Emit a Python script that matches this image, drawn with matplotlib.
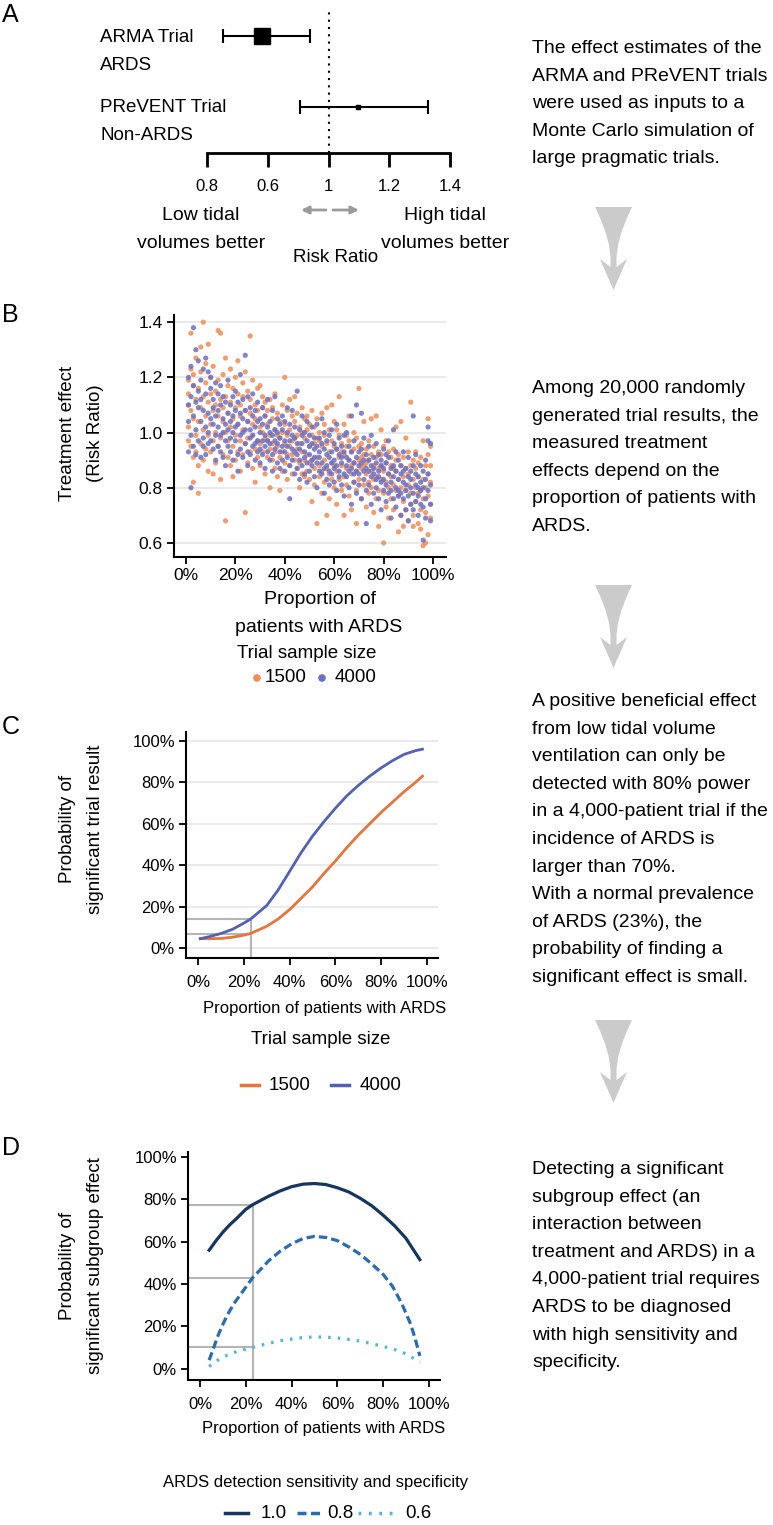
"""Four-panel flow figure: trial estimates, simulated effects, power curves, subgroup power."""

import matplotlib.pyplot as plt
from matplotlib.patches import Polygon

plt.rcParams["font.family"] = ["Liberation Sans", "DejaVu Sans"]

W, H = 773, 1525

# ---- panel A: trial estimates (risk ratio, 95% CI)
trial_names = ["ARMA Trial", "PReVENT Trial"]
trial_groups = ["ARDS", "Non-ARDS"]
trial_rr = [0.781, 1.097]
trial_lo = [0.653, 0.906]
trial_hi = [0.939, 1.328]
rr_ticks = [0.6, 0.8, 1.0, 1.2, 1.4]
rr_ticklabels = ["0.8", "0.6", "1", "1.2", "1.4"]

# ---- panel B: simulated trial results, RR by % ARDS (one row of y values per x)
sim_prop = list(range(1, 100))
sim_rr_1500 = [
    [1.19, 1.02, 1.10, 0.97, 1.14], [1.36, 1.23, 0.95, 1.08], [1.17, 0.91, 1.05, 1.21, 0.82],
    [1.12, 0.99, 1.27, 0.93], [1.04, 1.16, 0.88, 0.78], [1.22, 1.09, 0.96, 1.31],
    [1.40, 1.01, 1.13, 0.90], [1.06, 1.18, 0.94, 1.25], [1.32, 0.99, 1.11, 0.86],
    [1.03, 1.20, 0.93, 1.14], [1.08, 0.97, 1.24, 0.85], [1.15, 1.00, 0.89, 1.10],
    [1.37, 1.06, 0.95, 1.19], [1.36, 0.98, 1.12, 0.83], [1.04, 1.21, 0.92, 1.09],
    [0.68, 1.13, 1.00, 1.27], [1.07, 0.91, 1.17, 0.97], [1.02, 1.23, 0.88, 1.11],
    [1.16, 0.95, 1.05, 0.84], [1.09, 0.99, 1.20, 0.90], [1.03, 1.14, 0.93, 1.26],
    [0.97, 1.10, 0.86, 1.06], [1.18, 1.01, 0.92, 1.13], [0.71, 1.08, 0.96, 1.22],
    [1.04, 0.89, 1.15, 0.98], [1.35, 1.07, 0.93, 1.12], [0.99, 1.19, 0.87, 1.03],
    [1.10, 0.94, 1.05, 0.82], [1.16, 0.97, 1.08, 0.91], [1.02, 1.17, 0.88, 0.96],
    [1.09, 0.93, 1.13, 1.00], [0.98, 1.06, 0.85, 1.11], [1.03, 0.91, 0.97, 1.08],
    [0.94, 1.12, 0.99, 0.80], [1.05, 0.90, 0.96, 1.09], [0.93, 1.01, 0.87, 1.14],
    [1.07, 0.95, 0.99, 0.84], [0.91, 1.04, 0.98, 0.79], [1.10, 0.93, 1.00, 0.86],
    [1.20, 0.96, 0.89, 1.03], [0.92, 1.08, 0.99, 0.83], [1.01, 0.88, 0.95, 1.12],
    [0.97, 1.06, 0.85, 0.92], [1.04, 0.90, 0.98, 1.13], [0.94, 1.07, 0.87, 0.99],
    [1.02, 0.89, 0.96, 0.80], [0.93, 1.09, 0.85, 1.00], [0.98, 0.90, 1.05, 0.84],
    [1.01, 0.92, 0.86, 1.06], [0.95, 0.83, 1.03, 0.89], [0.75, 0.99, 0.90, 1.08],
    [0.96, 0.87, 1.02, 0.81], [0.91, 0.67, 0.98, 1.05], [0.88, 0.97, 0.84, 1.00],
    [0.95, 0.86, 1.07, 0.78], [0.90, 0.99, 0.82, 1.03], [0.87, 0.96, 0.70, 1.09],
    [0.93, 0.85, 1.01, 0.76], [0.89, 1.10, 0.83, 0.97], [0.95, 0.80, 0.88, 1.04],
    [0.86, 0.94, 0.74, 1.01], [0.91, 0.83, 0.99, 1.13], [0.88, 0.96, 0.79, 0.93],
    [0.92, 0.84, 1.03, 0.70], [0.87, 0.95, 0.81, 0.99], [0.90, 0.77, 0.97, 1.06],
    [0.85, 0.93, 0.88, 0.72], [0.94, 0.82, 1.00, 0.89], [0.86, 0.98, 0.79, 0.67],
    [1.16, 0.90, 0.83, 0.95], [0.87, 0.76, 0.96, 0.91], [0.92, 0.81, 0.88, 1.04],
    [0.85, 0.94, 0.73, 0.89], [0.90, 0.82, 0.97, 0.78], [0.86, 1.05, 0.80, 0.92],
    [0.88, 0.71, 0.95, 0.83], [0.91, 0.84, 1.06, 0.76], [0.87, 0.79, 0.93, 0.66],
    [0.83, 0.92, 0.88, 1.01], [0.60, 0.86, 0.78, 0.95], [0.89, 0.82, 0.73, 0.97],
    [0.85, 0.93, 0.80, 0.69], [0.88, 0.76, 0.91, 0.84], [0.81, 0.94, 0.72, 0.87],
    [0.86, 0.79, 1.02, 0.90], [0.83, 0.64, 0.92, 0.77], [0.88, 0.80, 1.04, 0.70],
    [0.84, 0.75, 0.91, 0.66], [0.79, 0.87, 0.98, 0.72], [0.85, 0.68, 0.81, 0.93],
    [1.11, 0.78, 0.88, 0.74], [0.83, 0.70, 0.90, 0.66], [0.80, 0.87, 0.75, 0.93],
    [0.84, 0.67, 0.78, 0.89], [0.79, 0.91, 0.72, 0.65], [0.83, 0.59, 0.76, 0.97],
    [0.60, 0.88, 0.71, 0.80], [0.85, 0.63, 1.05, 0.77, 0.92], [0.82, 0.69, 0.88, 0.74, 0.95],
]
sim_rr_4000 = [
    [1.10, 0.93, 1.20, 1.04], [1.13, 0.99, 1.24, 0.80], [1.38, 1.06, 0.95, 1.17],
    [1.30, 1.01, 1.11, 0.92], [1.09, 1.26, 0.97, 1.15], [1.04, 1.19, 0.91, 1.12],
    [1.23, 0.98, 1.08, 0.95], [1.14, 1.02, 1.27, 0.92], [1.00, 1.22, 1.07, 0.96],
    [1.16, 0.97, 1.05, 1.20], [1.03, 1.12, 0.94, 1.09], [1.18, 0.99, 1.06, 0.90],
    [1.08, 0.95, 1.14, 1.02], [0.99, 1.10, 0.93, 1.17], [1.05, 0.91, 1.13, 1.00],
    [1.11, 0.97, 1.03, 0.88], [0.95, 1.07, 1.19, 1.01], [1.04, 0.93, 1.10, 0.98],
    [1.13, 1.00, 0.90, 1.06], [0.97, 1.08, 1.15, 1.02], [1.03, 0.92, 1.11, 0.86],
    [1.07, 0.99, 1.21, 0.94], [1.00, 1.12, 0.91, 1.05], [1.28, 0.96, 1.08, 1.01],
    [1.04, 0.93, 1.13, 0.88], [0.98, 1.09, 1.01, 0.92], [1.06, 0.95, 1.14, 0.99],
    [1.02, 0.90, 1.08, 0.96], [0.97, 1.11, 0.93, 1.04], [1.05, 0.94, 1.00, 0.89],
    [1.09, 0.97, 0.92, 1.03], [0.99, 1.06, 0.87, 0.95], [1.02, 0.93, 1.12, 0.97],
    [0.96, 1.04, 0.90, 1.00], [1.08, 0.92, 0.99, 0.86], [0.94, 1.01, 1.13, 0.97],
    [1.00, 0.89, 0.96, 1.05], [0.93, 1.03, 0.98, 0.87], [1.06, 0.95, 0.90, 1.01],
    [0.97, 0.86, 1.04, 0.93], [0.91, 1.00, 0.95, 1.09], [1.03, 0.88, 0.97, 0.76],
    [0.94, 1.08, 0.90, 0.99], [0.98, 0.85, 1.02, 0.93], [1.15, 0.92, 0.96, 0.87],
    [0.90, 1.01, 0.94, 0.83], [0.96, 1.06, 0.88, 0.99], [0.93, 0.85, 1.00, 0.91],
    [0.97, 0.89, 1.04, 0.82], [0.92, 0.99, 0.86, 0.95], [0.88, 0.96, 1.02, 0.90],
    [0.94, 0.84, 0.98, 0.91], [1.03, 0.89, 0.95, 0.80], [0.91, 0.98, 0.86, 0.93],
    [0.96, 0.85, 1.05, 0.89], [0.87, 0.94, 0.78, 1.00], [0.92, 0.83, 0.97, 0.88],
    [0.99, 0.86, 0.91, 0.81], [0.85, 0.93, 1.01, 0.89], [0.90, 0.82, 0.96, 0.87],
    [0.94, 0.88, 0.79, 1.03], [0.86, 0.92, 0.98, 0.84], [0.89, 0.81, 0.95, 0.91],
    [0.93, 0.85, 0.77, 0.99], [0.84, 0.91, 0.88, 1.00], [0.90, 0.80, 0.95, 0.86],
    [0.87, 0.93, 0.74, 1.06], [0.82, 0.89, 0.97, 0.85], [0.91, 0.78, 0.86, 1.10],
    [0.85, 0.93, 0.81, 0.88], [0.89, 0.76, 0.94, 1.07], [0.83, 0.90, 0.86, 0.98],
    [0.87, 0.79, 0.92, 0.67], [0.81, 0.95, 0.86, 0.90], [0.88, 0.74, 0.84, 0.99],
    [0.85, 0.91, 0.78, 0.87], [0.80, 0.89, 0.96, 0.83], [0.86, 0.76, 0.92, 0.84],
    [0.82, 0.90, 0.72, 0.88], [0.87, 0.79, 0.94, 0.83], [0.81, 0.89, 0.75, 0.92],
    [0.85, 0.78, 0.91, 0.97], [0.79, 0.87, 0.82, 0.69], [0.84, 0.76, 1.01, 0.88],
    [0.80, 0.86, 0.73, 0.93], [0.83, 0.77, 0.90, 0.79], [0.78, 0.85, 0.70, 0.88],
    [0.82, 0.93, 0.76, 0.86], [0.79, 0.72, 0.87, 0.81], [0.84, 0.77, 0.91, 0.68],
    [0.80, 0.86, 0.74, 0.83], [1.06, 0.78, 0.88, 0.72], [0.81, 0.75, 0.85, 0.92],
    [0.77, 0.84, 0.70, 0.80], [0.82, 0.74, 0.88, 0.79], [0.61, 0.80, 0.86, 0.73],
    [0.83, 0.76, 0.90, 0.69], [1.02, 0.79, 0.85, 0.97], [0.81, 0.74, 0.96, 0.68],
]

# ---- panel C: probability of a significant trial result (%)
power_prop = [1, 5, 10, 15, 20, 23, 30, 35, 40, 45, 50, 55, 60, 65, 70, 75, 80, 85, 90, 95, 98]
power_1500 = [4.5, 4.5, 4.6, 5.2, 6.2, 7, 10.5, 14, 18.5, 24, 29.5, 36, 42, 48.5, 54.5, 60, 65.5, 70.5, 75.5, 80, 83]
power_4000 = [4.5, 5.5, 7, 9, 12, 14, 20.5, 28, 37, 46, 54, 61, 67.5, 73.5, 78.5, 83, 87, 90.5, 93.5, 95.3, 96]
ards_prevalence = 23

# ---- panel D: probability of a significant subgroup effect (%)
sub_prop_10 = [4, 7, 10, 13, 16, 20, 23, 27, 30, 35, 40, 45, 50, 55, 60, 65, 70, 75, 80, 85, 90, 93, 96]
sub_10 = [56, 60.5, 64.5, 68, 71, 75.3, 77.5, 79.8, 81.5, 84, 86, 87.2, 87.5, 87, 85.5,
          83.5, 80.5, 77, 72.5, 67.5, 61.5, 56.5, 51.5]
sub_prop_08 = [4, 6, 8, 10, 12, 15, 20, 23, 27, 30, 35, 40, 45, 50, 55, 60, 65, 70, 75, 80,
               84, 88, 92, 94, 96]
sub_08 = [4, 10, 16, 21, 25.5, 31, 38.5, 43, 47.5, 51, 55.5, 59, 61.5, 62.5, 62, 60.5, 57.5,
          54, 49.5, 44.5, 39, 31, 21, 14, 6]
sub_prop_06 = [4, 7, 10, 15, 20, 23, 30, 35, 40, 45, 50, 55, 60, 65, 70, 75, 80, 85, 90, 93, 96]
sub_06 = [1, 3.5, 5.5, 7.7, 9.2, 10, 12, 13.2, 14, 14.7, 15, 14.9, 14.5, 13.8, 13, 11.8,
          10.5, 9, 7, 5, 3]

side_text_a = ["The effect estimates of the", "ARMA and PReVENT trials",
               "were used as inputs to a", "Monte Carlo simulation of",
               "large pragmatic trials."]
side_text_b = ["Among 20,000 randomly", "generated trial results, the",
               "measured treatment", "effects depend on the",
               "proportion of patients with", "ARDS."]
side_text_c = ["A positive beneficial effect", "from low tidal volume",
               "ventilation can only be", "detected with 80% power",
               "in a 4,000-patient trial if the", "incidence of ARDS is",
               "larger than 70%.", "With a normal prevalence",
               "of ARDS (23%), the", "probability of finding a",
               "significant effect is small."]
side_text_d = ["Detecting a significant", "subgroup effect (an",
               "interaction between", "treatment and ARDS) in a",
               "4,000-patient trial requires", "ARDS to be diagnosed",
               "with high sensitivity and", "specificity."]

ORANGE_PT, BLUE_PT = "#f28b55", "#6a70c4"
ORANGE, BLUE = "#e8743b", "#5361b3"
NAVY, MID, LIGHT = "#14365f", "#2a6cb0", "#4fb5da"
REF = "#b5b5b5"
GRID = "#e6e6e6"


def rect(l, t, r, b):
    return [l / W, 1 - b / H, (r - l) / W, (b - t) / H]


def style_axes(ax, grid=True):
    for s in ("top", "right"):
        ax.spines[s].set_visible(False)
    for s in ("left", "bottom"):
        ax.spines[s].set_linewidth(1.5)
    ax.tick_params(direction="out", length=5, width=1.3, labelsize=12, pad=3)
    if grid:
        ax.yaxis.grid(True, color=GRID, linewidth=1.2)
        ax.set_axisbelow(True)


fig = plt.figure(figsize=(W / 100, H / 100), dpi=100)

# overlay in pixel coordinates for free text, arrows and legends
ov = fig.add_axes([0, 0, 1, 1])
ov.set_xlim(0, W)
ov.set_ylim(H, 0)
ov.axis("off")

for letter, y in zip("ABCD", [15, 315, 727, 1148]):
    ov.text(2, y, letter, fontsize=18, ha="left", va="center")

for lines, y0 in zip([side_text_a, side_text_b, side_text_c, side_text_d], [53, 393, 706, 1174]):
    for i, line in enumerate(lines):
        ov.text(532, y0 + i * 27.6, line, fontsize=14, ha="left", va="baseline")

# big grey flow arrows
shape = [(-18.5, 0), (18.5, 0), (13, 12), (8, 25), (4.5, 38), (3, 50), (3, 60), (13.5, 52),
         (0, 83), (-13.5, 52), (-3, 60), (-3, 50), (-4.5, 38), (-8, 25), (-13, 12)]
for top in [207, 585, 1020]:
    ov.add_patch(Polygon([(613.5 + dx, top + dy) for dx, dy in shape],
                         closed=True, facecolor="#cbcbcb", edgecolor="none"))

# ---------------- panel A
axA = fig.add_axes(rect(207, 8, 450, 153))
axA.set_xlim(0.6, 1.4)
axA.set_ylim(153, 8)
row_y = [36, 107]
ms = [11, 3.5]
for i in range(2):
    axA.errorbar(trial_rr[i], row_y[i],
                 xerr=[[trial_rr[i] - trial_lo[i]], [trial_hi[i] - trial_rr[i]]],
                 fmt="s", color="black", ms=ms[i], elinewidth=1.5, capsize=5, capthick=1.5)
axA.axvline(1.0, color="black", linestyle=(0, (1, 2.5)), linewidth=1.5)
for s in ("top", "right", "left"):
    axA.spines[s].set_visible(False)
axA.spines["bottom"].set_linewidth(2)
axA.set_yticks([])
axA.set_xticks(rr_ticks)
axA.set_xticklabels(rr_ticklabels)
axA.tick_params(axis="x", direction="out", length=10, width=2, labelsize=12, pad=9)
axA.patch.set_alpha(0)

for i in range(2):
    ov.text(100, row_y[i] + 1, trial_names[i], fontsize=13.5, ha="left", va="center")
    ov.text(100, row_y[i] + 29, trial_groups[i], fontsize=13.5, ha="left", va="center")
ov.text(201, 215, "Low tidal", fontsize=14, ha="center", va="center")
ov.text(201, 243, "volumes better", fontsize=14, ha="center", va="center")
ov.text(445, 215, "High tidal", fontsize=14, ha="center", va="center")
ov.text(445, 243, "volumes better", fontsize=14, ha="center", va="center")
ov.text(336, 258, "Risk Ratio", fontsize=13.5, ha="center", va="center")
for start, tip in [((326, 210), (301, 210)), ((333, 210), (359, 210))]:
    ov.annotate("", xy=tip, xytext=start,
                arrowprops=dict(arrowstyle="-|>", color="#9a9a9a", lw=2, mutation_scale=11,
                                shrinkA=0, shrinkB=0))

# ---------------- panel B
axB = fig.add_axes(rect(174, 315, 446, 557))
for rows, col in [(sim_rr_1500, ORANGE_PT), (sim_rr_4000, BLUE_PT)]:
    xs = [p for p, r in zip(sim_prop, rows) for _ in r]
    ys = [v for r in rows for v in r]
    axB.scatter(xs, ys, s=14, color=col, alpha=0.85, edgecolors="none")
axB.set_xlim(-4.86, 105.26)
axB.set_ylim(0.549, 1.426)
axB.set_yticks([0.6, 0.8, 1.0, 1.2, 1.4])
axB.set_yticklabels(["0.6", "0.8", "1.0", "1.2", "1.4"])
axB.set_xticks([0, 20, 40, 60, 80, 100])
axB.set_xticklabels(["0%", "20%", "40%", "60%", "80%", "100%"])
style_axes(axB)
axB.tick_params(labelsize=12.5)

ov.text(68, 433, "Treatment effect", fontsize=13.5, rotation=90, ha="center", va="center")
ov.text(95, 433, "(Risk Ratio)", fontsize=13.5, rotation=90, ha="center", va="center")
ov.text(320, 600, "Proportion of", fontsize=14, ha="center", va="center")
ov.text(319, 627, "patients with ARDS", fontsize=14, ha="center", va="center")
ov.text(307, 653, "Trial sample size", fontsize=13.5, ha="center", va="center")
ov.scatter([257, 322], [678, 678], s=30, color=[ORANGE_PT, BLUE_PT], edgecolors="none")
ov.text(265, 678, "1500", fontsize=13.5, ha="left", va="center")
ov.text(335, 678, "4000", fontsize=13.5, ha="left", va="center")

# ---------------- panel C
axC = fig.add_axes(rect(186, 732, 438, 958))
p_idx = power_prop.index(ards_prevalence)
for val in (power_1500[p_idx], power_4000[p_idx]):
    axC.plot([-5.24, ards_prevalence], [val, val], color=REF, lw=1.5, zorder=1)
axC.plot([ards_prevalence, ards_prevalence], [-4.83, power_4000[p_idx]], color=REF, lw=1.5, zorder=1)
axC.plot(power_prop, power_1500, color=ORANGE, lw=2)
axC.plot(power_prop, power_4000, color=BLUE, lw=2)
axC.set_xlim(-5.24, 104.8)
axC.set_ylim(-4.83, 104.3)
axC.set_yticks([0, 20, 40, 60, 80, 100])
axC.set_yticklabels(["0%", "20%", "40%", "60%", "80%", "100%"])
axC.set_xticks([0, 20, 40, 60, 80, 100])
axC.set_xticklabels(["0%", "20%", "40%", "60%", "80%", "100%"])
style_axes(axC)
axC.tick_params(axis="x", pad=7)

ov.text(68, 829, "Probability of", fontsize=13.5, rotation=90, ha="center", va="center")
ov.text(95, 829, "significant trial result", fontsize=13.5, rotation=90, ha="center", va="center")
ov.text(325, 1008, "Proportion of patients with ARDS", fontsize=12, ha="center", va="center")
ov.text(321, 1040, "Trial sample size", fontsize=13.5, ha="center", va="center")
ov.plot([241, 259], [1085, 1085], color=ORANGE, lw=2.5)
ov.plot([331, 349], [1085, 1085], color=BLUE, lw=2.5)
ov.text(269, 1085, "1500", fontsize=13.5, ha="left", va="center")
ov.text(360, 1085, "4000", fontsize=13.5, ha="left", va="center")

# ---------------- panel D
axD = fig.add_axes(rect(188, 1152, 440, 1380))
ref_vals = [sub_10[sub_prop_10.index(ards_prevalence)],
            sub_08[sub_prop_08.index(ards_prevalence)],
            sub_06[sub_prop_06.index(ards_prevalence)]]
for val in ref_vals:
    axD.plot([-5.24, ards_prevalence], [val, val], color=REF, lw=1.5, zorder=1)
axD.plot([ards_prevalence, ards_prevalence], [-5.37, ref_vals[0]], color=REF, lw=1.5, zorder=1)
axD.plot(sub_prop_10, sub_10, color=NAVY, lw=2.3)
axD.plot(sub_prop_08, sub_08, color=MID, lw=2.3, linestyle=(0, (2.6, 1.3)))
axD.plot(sub_prop_06, sub_06, color=LIGHT, lw=2.3, linestyle=(0, (0.8, 2.2)))
axD.set_xlim(-5.24, 104.8)
axD.set_ylim(-5.37, 102.4)
axD.set_yticks([0, 20, 40, 60, 80, 100])
axD.set_yticklabels(["0%", "20%", "40%", "60%", "80%", "100%"])
axD.set_xticks([0, 20, 40, 60, 80, 100])
axD.set_xticklabels(["0%", "20%", "40%", "60%", "80%", "100%"])
style_axes(axD, grid=False)
axD.tick_params(axis="x", pad=7)

ov.text(68, 1266, "Probability of", fontsize=13.5, rotation=90, ha="center", va="center")
ov.text(95, 1266, "significant subgroup effect", fontsize=13.5, rotation=90, ha="center", va="center")
ov.text(324, 1429, "Proportion of patients with ARDS", fontsize=12, ha="center", va="center")
ov.text(316, 1483, "ARDS detection sensitivity and specificity", fontsize=12, ha="center", va="center")
ov.plot([225, 248], [1513, 1513], color=NAVY, lw=2.5)
ov.plot([297, 322], [1513, 1513], color=MID, lw=2.5, linestyle=(0, (2.6, 1.3)))
ov.plot([358, 393], [1513, 1513], color=LIGHT, lw=2.5, linestyle=(0, (0.8, 2.2)))
ov.text(261, 1513, "1.0", fontsize=13.5, ha="left", va="center")
ov.text(327, 1513, "0.8", fontsize=13.5, ha="left", va="center")
ov.text(405, 1513, "0.6", fontsize=13.5, ha="left", va="center")

fig.savefig("out.png", dpi=100)
